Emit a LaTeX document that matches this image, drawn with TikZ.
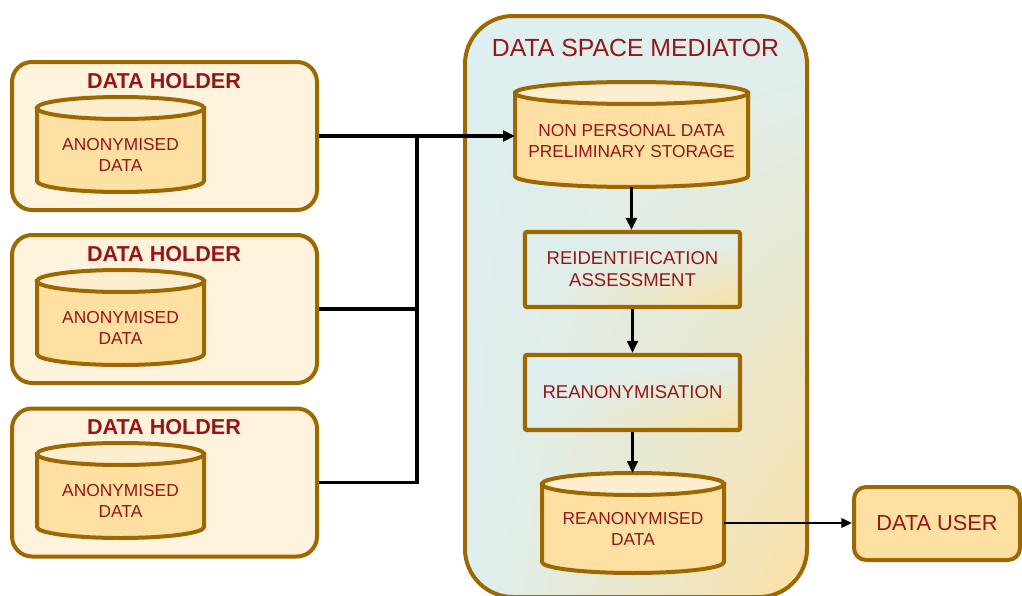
\documentclass[tikz,border=0pt]{standalone}
\usepackage{fontspec}
\setmainfont{Liberation Sans}
\usetikzlibrary{arrows.meta,shadings}
\definecolor{brd}{RGB}{158,104,0}
\definecolor{txt}{RGB}{150,22,22}
\definecolor{holderfill}{RGB}{255,243,222}
\definecolor{cylfill}{RGB}{253,224,162}
\definecolor{cyltopfill}{RGB}{254,238,208}
\definecolor{medblue}{RGB}{221,239,240}
\definecolor{medorange}{RGB}{250,224,165}
\tikzset{
  holderbox/.style={draw=brd, line width=3pt, fill=holderfill, rounded corners=15pt,
    minimum width=228.75pt, minimum height=111pt},
  cylbody/.style={draw=brd, line width=3pt, fill=cylfill},
  cyltop/.style={draw=brd, line width=3pt, fill=cyltopfill},
  cylframe/.style={inner sep=0pt, outer sep=0pt},
  smalltxt/.style={text=txt, align=center, font=\fontsize{13}{15.75}\selectfont, inner sep=0pt},
  holdertitle/.style={text=txt, font=\bfseries\fontsize{16.2}{19}\selectfont, inner sep=0pt},
  medtitle/.style={text=txt, font=\fontsize{18.6}{21}\selectfont, inner sep=0pt},
  stepbox/.style={draw=brd, line width=3.2pt, rounded corners=1.5pt,
    upper left=medblue, upper right=medblue, lower left=medblue, lower right=medorange,
    minimum width=161.25pt, minimum height=56.25pt, text=txt, align=center,
    font=\fontsize{13.9}{16.5}\selectfont},
  medbox/.style={draw=brd, line width=3pt, rounded corners=36pt,
    upper left=medblue, upper right=medblue, lower left=medblue, lower right=medorange,
    minimum width=256.5pt, minimum height=435.75pt},
  userbox/.style={draw=brd, line width=3pt, rounded corners=9pt, fill=cylfill,
    minimum width=124.5pt, minimum height=54.75pt, text=txt,
    font=\fontsize{16.3}{19}\selectfont},
  conn/.style={line width=2.6pt, black},
  arr/.style={conn, -{Triangle[length=9pt,width=8pt]}},
  thinarr/.style={line width=1.8pt, black, -{Triangle[length=8pt,width=7pt]}},
}
% name, x1, ytop, x2, ybot, text-centre y, text
\newcommand\dbcyl[7]{%
  \pgfmathsetmacro\cylcx{(#2+#4)/2}%
  \pgfmathsetmacro\cylrx{(#4-#2)/2}%
  \pgfmathsetmacro\cylcy{-(#3+#5)/2}%
  \pgfmathsetmacro\cylw{(#4-#2)*0.75}%
  \pgfmathsetmacro\cylh{(#5-#3)*0.75}%
  \path[cylbody] (#2,-#3-11) -- (#2,-#5+11)
     arc[start angle=180,end angle=360,x radius=\cylrx,y radius=11] -- (#4,-#3-11) -- cycle;
  \path[cyltop] (\cylcx,-#3-11) ellipse[x radius=\cylrx,y radius=11];
  \node[cylframe, minimum width=\cylw pt, minimum height=\cylh pt] (#1) at (\cylcx,\cylcy) {};
  \node[smalltxt] (#1t) at (\cylcx,-#6) {#7};
}
\begin{document}
\begin{tikzpicture}[x=0.75pt,y=0.75pt]
\useasboundingbox (0,0) rectangle (1022,-596);

% data holders
\node[holderbox] (h1) at (164.5,-136) {};
\node[holderbox] (h2) at (164.5,-309) {};
\node[holderbox] (h3) at (164.5,-482.5) {};
\node[holdertitle] (ht1) at (164,-81) {DATA HOLDER};
\node[holdertitle] (ht2) at (164,-254) {DATA HOLDER};
\node[holdertitle] (ht3) at (164,-427) {DATA HOLDER};
\dbcyl{a1}{37}{97}{204}{192}{155}{ANONYMISED\\DATA}
\dbcyl{a2}{37}{270}{204}{365}{328}{ANONYMISED\\DATA}
\dbcyl{a3}{37}{443}{204}{538}{501}{ANONYMISED\\DATA}

% mediator
\node[medbox] (m) at (636,-306.5) {};
\node[medtitle] (mt) at (635.5,-48) {DATA SPACE MEDIATOR};
\dbcyl{c1}{515}{82}{748}{187}{141.5}{NON PERSONAL DATA\\PRELIMINARY STORAGE}
\node[stepbox] (r1) at (632.5,-269.5) {REIDENTIFICATION\\ASSESSMENT};
\node[stepbox] (r2) at (632.5,-392.5) {REANONYMISATION};
\dbcyl{c3}{542}{473}{724}{573}{528.5}{REANONYMISED\\DATA}

% data user
\node[userbox] (du) at (937,-523.5) {DATA USER};

% connectors
\coordinate (bus) at (417,-136);
\draw[arr] (h1.east) -- (h1.east -| c1.west);
\draw[conn] (h2.east) -- (h2.east -| bus);
\draw[conn] (h3.east) -- (h3.east -| bus) -- (bus);
\draw[arr] (c1.south) -- (c1.south |- r1.north);
\draw[arr] (r1.south) -- (r2.north);
\draw[arr] (r2.south) -- (r2.south |- c3.north);
\draw[thinarr] (c3.east) -- (c3.east -| du.west);
\end{tikzpicture}
\end{document}
